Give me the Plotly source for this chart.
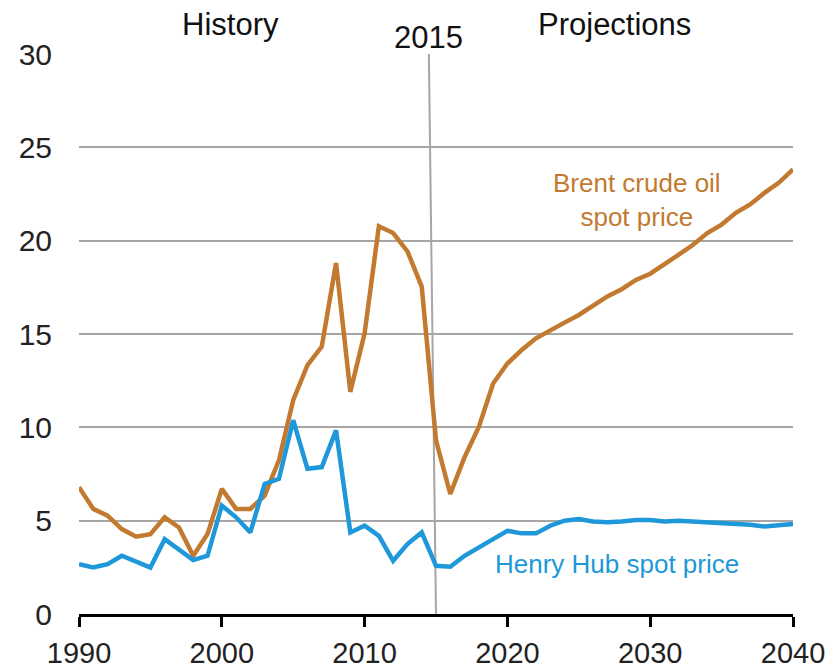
import plotly.graph_objects as go

years = list(range(1990, 2041))

brent = [6.79, 5.63, 5.27, 4.55, 4.14, 4.28, 5.18, 4.64, 3.12, 4.28,
         6.70, 5.63, 5.63, 6.34, 8.23, 11.45, 13.33, 14.32, 18.80, 11.90,
         15.04, 20.77, 20.41, 19.43, 17.54, 9.30, 6.43, 8.40, 10.02, 12.35,
         13.42, 14.14, 14.77, 15.22, 15.61, 16.02, 16.52, 17.01, 17.40, 17.90,
         18.23, 18.71, 19.25, 19.78, 20.41, 20.86, 21.49, 21.94, 22.56, 23.10,
         23.82]

henry = [2.67, 2.49, 2.67, 3.12, 2.81, 2.49, 4.01, 3.48, 2.89, 3.12,
         5.81, 5.18, 4.37, 6.97, 7.24, 10.38, 7.78, 7.87, 9.84, 4.37,
         4.73, 4.19, 2.85, 3.75, 4.37, 2.58, 2.53, 3.12, 3.60, 4.01,
         4.46, 4.32, 4.32, 4.73, 5.00, 5.09, 4.96, 4.91, 4.96, 5.04,
         5.04, 4.96, 5.00, 4.95, 4.91, 4.88, 4.86, 4.78, 4.69, 4.78,
         4.82]

x_ticks = [1990, 2000, 2010, 2020, 2030, 2040]
y_ticks = [0, 5, 10, 15, 20, 25, 30]

BRENT_C = "#C27A30"
HENRY_C = "#1E98D8"
FONT = "Liberation Sans, Arial, sans-serif"

fig = go.Figure()
fig.add_trace(go.Scatter(x=years, y=brent, mode="lines",
                         line=dict(color=BRENT_C, width=4.5), name="Brent",
                         cliponaxis=False))
fig.add_trace(go.Scatter(x=years, y=henry, mode="lines",
                         line=dict(color=HENRY_C, width=4.5), name="Henry Hub",
                         cliponaxis=False))

# 2015 divider
fig.add_shape(type="line", x0=2014.5, y0=30, x1=2015, y1=0,
              xref="x", yref="y", line=dict(color="#A6A6A6", width=2),
              layer="below")

# header labels (paper coords, above the plot)
top = [
    dict(x=2000.6, y=1.052, text="History"),
    dict(x=2014.45, y=1.030, text="2015"),
    dict(x=2027.5, y=1.052, text="Projections"),
]
for a in top:
    fig.add_annotation(xref="x", yref="paper", showarrow=False,
                       xanchor="center", yanchor="middle",
                       font=dict(family=FONT, size=31, color="#111111"), **a)

fig.add_annotation(xref="x", yref="y", x=2029.1, y=22.17,
                   text="Brent crude oil<br>spot price", showarrow=False,
                   xanchor="center", yanchor="middle",
                   font=dict(family=FONT, size=26, color=BRENT_C))
fig.add_annotation(xref="x", yref="y", x=2027.7, y=2.68,
                   text="Henry Hub spot price", showarrow=False,
                   xanchor="center", yanchor="middle",
                   font=dict(family=FONT, size=26, color=HENRY_C))

fig.update_layout(
    width=830, height=670,
    margin=dict(l=79, r=37, t=54, b=56),
    paper_bgcolor="white", plot_bgcolor="white",
    showlegend=False,
    font=dict(family=FONT, size=29, color="#111111"),
)
fig.update_xaxes(range=[1990, 2040], tickvals=x_ticks,
                 ticktext=[str(v) for v in x_ticks],
                 showgrid=False, zeroline=False, automargin=False,
                 showline=True, linecolor="black", linewidth=3,
                 ticks="outside", ticklen=10, tickwidth=3, tickcolor="black",
                 ticklabelstandoff=1,
                 tickfont=dict(family=FONT, size=29, color="#222222"))
fig.update_yaxes(range=[0, 30], tickvals=y_ticks,
                 ticktext=[str(v) for v in y_ticks],
                 showgrid=True, gridcolor="#A6A6A6", gridwidth=2,
                 zeroline=False, showline=False, ticks="", automargin=False,
                 ticklabelstandoff=26,
                 tickfont=dict(family=FONT, size=30, color="#222222"))

# remove the default 8px page margin so the figure fills the 830x670 view
fig.write_html(
    "out.html",
    config={"displayModeBar": False},
    post_script="document.body.style.margin='0';"
                "document.body.style.overflow='hidden';",
)
